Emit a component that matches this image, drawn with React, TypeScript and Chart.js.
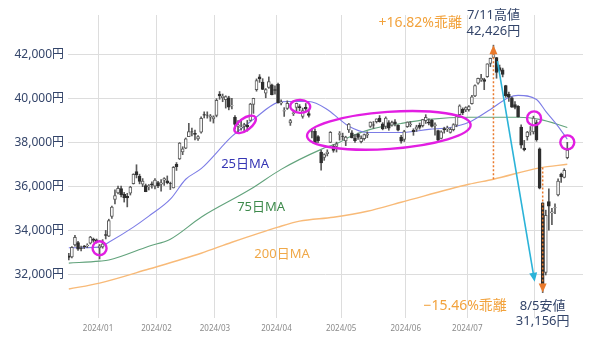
import React, { useEffect, useRef } from 'react';
import { Chart, registerables } from 'chart.js';
Chart.register(...registerables);

// Trading days (Dec 18, 2023 – Aug 16, 2024)
const days = [
  '12/18','12/19','12/20','12/21','12/22','12/25','12/26','12/27','12/28','12/29',
  '1/4','1/5','1/9','1/10','1/11','1/12','1/15','1/16','1/17','1/18','1/19','1/22','1/23','1/24','1/25','1/26','1/29','1/30','1/31',
  '2/1','2/2','2/5','2/6','2/7','2/8','2/9','2/13','2/14','2/15','2/16','2/19','2/20','2/21','2/22','2/26','2/27','2/28','2/29',
  '3/1','3/4','3/5','3/6','3/7','3/8','3/11','3/12','3/13','3/14','3/15','3/18','3/19','3/21','3/22','3/25','3/26','3/27','3/28','3/29',
  '4/1','4/2','4/3','4/4','4/5','4/8','4/9','4/10','4/11','4/12','4/15','4/16','4/17','4/18','4/19','4/22','4/23','4/24','4/25','4/26','4/30',
  '5/1','5/2','5/7','5/8','5/9','5/10','5/13','5/14','5/15','5/16','5/17','5/20','5/21','5/22','5/23','5/24','5/27','5/28','5/29','5/30','5/31',
  '6/3','6/4','6/5','6/6','6/7','6/10','6/11','6/12','6/13','6/14','6/17','6/18','6/19','6/20','6/21','6/24','6/25','6/26','6/27','6/28',
  '7/1','7/2','7/3','7/4','7/5','7/8','7/9','7/10','7/11','7/12','7/16','7/17','7/18','7/19','7/22','7/23','7/24','7/25','7/26','7/29','7/30','7/31',
  '8/1','8/2','8/5','8/6','8/7','8/8','8/9','8/13','8/14','8/15','8/16',
];

const opens = [
  32830,32780,33330,33430,33180,33260,33290,33410,33600,33560,
  33190,33240,33800,33730,34630,35400,35700,35890,35630,35540,35690,36120,36670,36460,36090,36030,35980,36110,36000,
  36170,36100,36280,36250,36120,35930,37000,37250,37560,37740,38260,38480,38410,38160,38460,39260,39240,39150,39070,
  39230,40200,40040,39940,40030,39680,39140,38730,38670,38730,38790,39000,39730,40400,40980,40750,40240,40500,40620,40400,
  40640,39780,39420,39540,38880,39310,39590,39630,39180,39590,39310,38480,38500,38260,37560,37310,37490,38000,37820,37810,38360,
  38280,38060,38570,38430,38190,38370,38030,38170,38330,38730,38800,38940,39100,38840,38720,38900,38780,38930,38780,38240,38130,
  38710,38790,38550,38600,38780,38760,38990,38920,39000,38760,38540,38180,38630,38620,38450,38580,38780,39260,39500,39480,
  39490,39760,40120,40690,40850,40860,40990,41590,41870,41860,41400,41300,40590,40190,40030,39720,39640,38700,37740,38260,38500,38480,
  38900,37700,35250,32080,35300,34790,35010,35600,36540,36400,37300,
];
const highs = [
  32950,33250,33770,33490,33280,33310,33380,33720,33640,33600,
  33350,33570,33990,34500,35100,35840,36010,36010,35720,35680,36000,36570,36980,36550,36350,36100,36080,36200,36350,
  36230,36300,36390,36470,36190,36900,37080,37990,37800,38200,38865,38650,38560,38310,39160,39390,39390,39270,39210,
  39990,40314,40200,40120,40100,40000,39220,38990,39050,38870,39000,39780,40010,40890,41087,40900,40450,40980,40650,40570,
  40700,39940,39580,39890,39050,39470,39790,39720,39560,39770,39440,38620,38620,38310,37640,37480,37660,38490,37900,38010,38490,
  38420,38280,38860,38540,38350,38420,38300,38380,38480,38930,38950,39070,39220,38900,39160,38990,38970,39040,38800,38320,38550,
  38930,38950,38620,38780,38880,39050,39260,39070,39050,38890,38560,38530,38690,38740,38660,38850,39200,39710,39570,39620,
  39670,40140,40620,40930,41100,40920,41580,41840,42426,41870,41520,41380,40600,40290,40060,39860,39670,38800,38090,38500,38720,39190,
  39000,37750,35250,34911,35880,35000,35200,36340,36600,36800,38000,
];
const lows = [
  32650,32740,33270,33080,33060,33160,33200,33370,33450,33410,
  32690,33180,33600,33710,34540,35200,35650,35520,35280,35060,35600,36100,36380,36110,35980,35750,35830,35910,35880,
  35940,35780,36040,36110,35850,35920,36720,37220,37440,37710,38260,38290,38110,38090,38420,39110,39100,38960,38880,
  39160,39960,39850,39560,39480,39520,38610,38410,38550,38530,38510,38970,39320,40330,40730,40400,40030,40460,40160,40190,
  39780,39700,39180,39500,38770,39220,39440,39440,39100,39450,39150,38200,37960,37990,36733,37180,37380,37990,37550,37560,38100,
  38110,37850,38450,38200,38000,38130,37970,38100,38210,38680,38640,38880,38920,38570,38630,38550,38740,38750,38520,37960,38040,
  38680,38710,38320,38500,38600,38700,38860,38790,38690,38330,38030,38160,38420,38490,38420,38520,38710,39240,39260,39400,
  39420,39740,40080,40650,40780,40400,40960,41450,41850,40920,41220,40980,40050,39860,39590,39520,39150,37730,37610,38100,38330,38380,
  38050,35880,31156,31960,34000,34250,34750,35560,36170,36380,37250,
];
const closes = [
  32758,33219,33675,33140,33169,33254,33305,33681,33539,33464,
  33288,33377,33763,34441,35049,35577,35901,35619,35477,35466,35963,36546,36517,36226,36236,35751,36026,36065,36287,
  36011,36158,36354,36160,36119,36863,36897,37963,37703,38157,38487,38470,38363,38262,39098,39233,39239,39208,39166,
  39910,40109,40097,40090,39598,39688,38820,38797,38695,38807,38707,39740,40003,40815,40888,40414,40398,40762,40168,40369,
  39803,39838,39451,39773,38992,39347,39773,39581,39442,39523,39232,38471,37961,38079,37068,37438,37552,38460,37628,37934,38405,
  38274,38236,38835,38202,38073,38229,38179,38356,38385,38920,38787,39069,38946,38617,39103,38646,38900,38855,38556,38054,38487,
  38923,38837,38490,38703,38683,39038,39134,38876,38720,38814,38102,38482,38570,38633,38596,38804,39173,39667,39341,39583,
  39631,40074,40580,40913,40912,40780,41580,41831,42224,41190,41275,41097,40126,40063,39599,39594,39154,37869,37667,38468,38525,39101,
  38126,35909,31458,34675,35089,34831,35025,36232,36442,36726,37650,
];

// Moving averages (trading-day index, value)
const ma25Idx = [0,10,13,21,26,33,38,43,53,60,68,71,78,84,88,91,97,108,117,124,130,137,143,146,152,155,159,162];
const ma25 = [33200,33230,33450,34140,34640,35410,36320,36800,38270,39045,39820,39860,39860,39500,39045,38730,38450,38450,38590,38680,38910,39500,40045,40140,39950,39410,38730,38140];
const ma75Idx = [0,10,13,26,33,43,59,69,82,88,91,98,108,117,130,146,153,162];
const ma75 = [32500,32590,32640,33270,33590,34590,35860,36770,37680,38000,38230,38590,38860,39045,39140,39140,39045,38680];
const ma200Idx = [0,10,26,43,53,68,75,86,97,108,130,138,153,162];
const ma200 = [31320,31590,32230,32950,33450,34140,34410,34590,34860,35270,36090,36319,36840,37000];

// Axis ticks
const monthTickIdx = [9.5, 28.5, 47.5, 67.5, 88.5, 109.5, 129.5, 151.5];
const monthLabels = ['2024/01','2024/02','2024/03','2024/04','2024/05','2024/06','2024/07',''];
const yTicks = [32000, 34000, 36000, 38000, 40000, 42000];

// Key events
const highIdx = 138; const highVal = 42426; const highMa200 = 36319;
const lowIdx = 154; const lowVal = 31156; const lowMa200 = 36853;

const FONT = '"Noto Sans", "Noto Sans CJK JP", sans-serif';
const MAGENTA = '#e21ee2';

function arrowHead(ctx: CanvasRenderingContext2D, fx: number, fy: number, tx: number, ty: number, len: number, half: number, color: string) {
  const a = Math.atan2(ty - fy, tx - fx);
  ctx.save();
  ctx.fillStyle = color;
  ctx.beginPath();
  ctx.moveTo(tx, ty);
  ctx.lineTo(tx - len * Math.cos(a) + half * Math.sin(a), ty - len * Math.sin(a) - half * Math.cos(a));
  ctx.lineTo(tx - len * Math.cos(a) - half * Math.sin(a), ty - len * Math.sin(a) + half * Math.cos(a));
  ctx.closePath();
  ctx.fill();
  ctx.restore();
}

const overlay = {
  id: 'overlay',
  afterDatasetsDraw(chart: any) {
    const { ctx, scales } = chart;
    const px = (i: number) => scales.x.getPixelForValue(i);
    const py = (v: number) => scales.y.getPixelForValue(v);
    ctx.save();

    // orange dotted arrows (deviation from 200MA)
    const orange = '#ea7a2c';
    ctx.strokeStyle = orange;
    ctx.lineWidth = 1.5;
    ctx.setLineDash([2, 2]);
    const x1 = px(highIdx);
    ctx.beginPath();
    ctx.moveTo(x1, py(highMa200));
    ctx.lineTo(x1, py(highVal) + 6);
    ctx.stroke();
    const x2 = px(lowIdx);
    ctx.beginPath();
    ctx.moveTo(x2, py(lowMa200));
    ctx.lineTo(x2, py(lowVal) - 6);
    ctx.stroke();
    ctx.setLineDash([]);
    arrowHead(ctx, x1, py(highMa200), x1, py(highVal), 9, 4, orange);
    arrowHead(ctx, x2, py(lowMa200), x2, py(lowVal), 9, 4, orange);

    // cyan arrow high -> low
    const cyan = '#2bb3d8';
    const cx0 = px(highIdx + 1.3), cy0 = py(41700);
    const cx1 = px(lowIdx - 2.6), cy1 = py(31650);
    const ang = Math.atan2(cy1 - cy0, cx1 - cx0);
    ctx.strokeStyle = cyan;
    ctx.lineWidth = 1.6;
    ctx.beginPath();
    ctx.moveTo(cx0, cy0);
    ctx.lineTo(cx1 - 6 * Math.cos(ang), cy1 - 6 * Math.sin(ang));
    ctx.stroke();
    arrowHead(ctx, cx0, cy0, cx1, cy1, 9, 4, cyan);

    // magenta ellipses
    ctx.strokeStyle = MAGENTA;
    ctx.lineWidth = 2.4;
    const ell = (i: number, v: number, rx: number, ry: number, rot: number) => {
      ctx.beginPath();
      ctx.ellipse(px(i), py(v), rx, ry, rot, 0, Math.PI * 2);
      ctx.stroke();
    };
    ell(10, 33180, 7, 7, 0);
    ell(57.3, 38820, 12.5, 6, -0.62);
    ell(75.2, 39640, 10, 6.5, 0.05);
    ell(104, 38545, 82, 18.5, -0.07);
    ell(151.2, 39090, 7, 7, 0);
    ell(162, 38000, 7, 7, 0);

    // text labels
    ctx.textAlign = 'center';
    ctx.textBaseline = 'middle';
    const text = (s: string, i: number, v: number, color: string, size: number) => {
      ctx.fillStyle = color;
      ctx.font = `${size}px ${FONT}`;
      ctx.fillText(s, px(i), py(v));
    };
    text('25日MA', 57.3, 37000, '#3636b4', 13);
    text('75日MA', 62.5, 35045, '#3e8a4c', 13);
    text('200日MA', 69.3, 32910, '#f0a848', 13);

    text('+16.82%乖離', 114.2, 43455, '#f2a23c', 14);
    text('7/11高値', highIdx, 43773, '#34456a', 13);
    text('42,426円', highIdx, 43045, '#34456a', 13);
    text('−15.46%乖離', 128.8, 30545, '#f2a23c', 14);
    text('8/5安値', lowIdx, 30545, '#34456a', 13);
    text('31,156円', lowIdx, 29864, '#34456a', 13);

    ctx.restore();
  },
};

export default function App() {
  const ref = useRef<HTMLCanvasElement>(null);
  useEffect(() => {
    document.body.style.margin = '0';
    const up = closes.map((c, i) => c >= opens[i]);
    const chart = new Chart(ref.current!, {
      type: 'bar',
      data: {
        datasets: [
          {
            type: 'bar',
            label: 'body',
            data: closes.map((c, i) => ({ x: i, y: [opens[i], c] })) as any,
            backgroundColor: up.map((u) => (u ? '#ffffff' : '#2e2e2e')),
            borderColor: up.map((u) => (u ? '#5c5c5c' : '#2e2e2e')),
            borderWidth: 1,
            borderSkipped: false,
            barThickness: 3,
            grouped: false,
            order: 0,
          } as any,
          {
            type: 'bar',
            label: 'wick',
            data: highs.map((h, i) => ({ x: i, y: [lows[i], h] })) as any,
            backgroundColor: '#5a5a5a',
            borderWidth: 0,
            barThickness: 1,
            grouped: false,
            order: 1,
          } as any,
          {
            type: 'line',
            label: '25日MA',
            data: ma25Idx.map((x, k) => ({ x, y: ma25[k] })),
            borderColor: '#7c7ce6',
            borderWidth: 1.1,
            pointRadius: 0,
            cubicInterpolationMode: 'monotone',
            order: 2,
          } as any,
          {
            type: 'line',
            label: '75日MA',
            data: ma75Idx.map((x, k) => ({ x, y: ma75[k] })),
            borderColor: '#62a37c',
            borderWidth: 1.1,
            pointRadius: 0,
            cubicInterpolationMode: 'monotone',
            order: 3,
          } as any,
          {
            type: 'line',
            label: '200日MA',
            data: ma200Idx.map((x, k) => ({ x, y: ma200[k] })),
            borderColor: '#f8ba78',
            borderWidth: 1.4,
            pointRadius: 0,
            cubicInterpolationMode: 'monotone',
            order: 4,
          } as any,
        ],
      },
      options: {
        animation: false,
        responsive: false,
        maintainAspectRatio: false,
        layout: { padding: { top: 15, right: 17, left: 0, bottom: 0 } },
        plugins: { legend: { display: false }, tooltip: { enabled: false } },
        scales: {
          x: {
            type: 'linear',
            min: -0.26,
            max: 167.1,
            offset: false,
            grid: { color: '#dddddd', drawTicks: false, offset: false },
            border: { display: false },
            ticks: {
              autoSkip: false,
              maxRotation: 0,
              color: '#8a8a8a',
              padding: 6,
              font: { size: 8, family: FONT },
              callback: (_v: any, i: number) => monthLabels[i],
            },
            afterBuildTicks: (s: any) => {
              s.ticks = monthTickIdx.map((v) => ({ value: v }));
            },
            afterFit: (s: any) => {
              s.height = 27;
            },
          },
          y: {
            min: 30000,
            max: 43800,
            grid: { color: '#dddddd', drawTicks: false },
            border: { display: false },
            ticks: {
              color: '#34456a',
              padding: 4,
              font: { size: 12, family: FONT },
              callback: (v: any) => Number(v).toLocaleString('en-US') + '円',
            },
            afterBuildTicks: (s: any) => {
              s.ticks = yTicks.map((v) => ({ value: v }));
            },
            afterFit: (s: any) => {
              s.width = 68;
            },
          },
        },
      } as any,
      plugins: [overlay],
    });
    return () => chart.destroy();
  }, []);
  return (
    <div style={{ width: 600, height: 345, background: '#fff' }}>
      <canvas ref={ref} width={600} height={345} style={{ display: 'block' }} />
    </div>
  );
}
